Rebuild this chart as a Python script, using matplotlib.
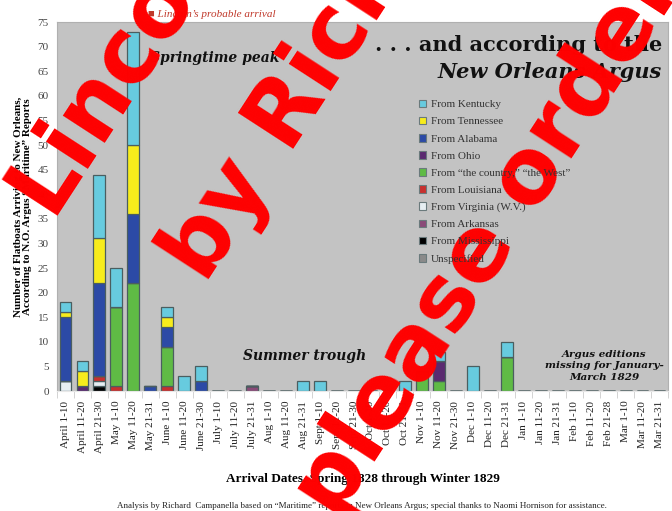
import matplotlib.pyplot as plt
from matplotlib.patches import Patch
import numpy as np

# ten-day arrival periods, spring 1828 through winter 1829
periods = ['April 1-10', 'April 11-20', 'April 21-30', 'May 1-10', 'May 11-20', 'May 21-31',
           'June 1-10', 'June 11-20', 'June 21-30', 'July 1-10', 'July 11-20', 'July 21-31',
           'Aug 1-10', 'Aug 11-20', 'Aug 21-31', 'Sept 1-10', 'Sept 11-20', 'Sept 21-30',
           'Oct 1-10', 'Oct 11-20', 'Oct 21-31', 'Nov 1-10', 'Nov 11-20', 'Nov 21-30',
           'Dec 1-10', 'Dec 11-20', 'Dec 21-31', 'Jan 1-10', 'Jan 11-20', 'Jan 21-31',
           'Feb 1-10', 'Feb 11-20', 'Feb 21-28', 'Mar 1-10', 'Mar 11-20', 'Mar 21-31']

n = len(periods)

def series(vals):
    s = [0] * n
    for i, v in vals.items():
        s[i] = v
    return s

kentucky = series({0: 2, 1: 2, 2: 13, 3: 8, 4: 23, 6: 2, 7: 3, 8: 3, 14: 2, 15: 2,
                   20: 2, 22: 2, 24: 5, 26: 3})
tennessee = series({0: 1, 1: 3, 2: 9, 4: 14, 6: 2})
alabama = series({0: 13, 2: 19, 4: 14, 5: 1, 6: 4, 8: 2})
ohio = series({1: 1, 22: 4})
country = series({3: 16, 4: 22, 6: 8, 21: 4, 22: 2, 26: 7})
louisiana = series({2: 1, 3: 1, 6: 1})
virginia = series({0: 2, 2: 1})
arkansas = series({11: 1})
mississippi = series({2: 1})
unspecified = series({})

labels = ['From Kentucky', 'From Tennessee', 'From Alabama', 'From Ohio',
          'From \u201cthe country,\u201d \u201cthe West\u201d', 'From Louisiana',
          'From Virginia (W.V.)', 'From Arkansas', 'From Mississippi', 'Unspecified']
values = [kentucky, tennessee, alabama, ohio, country, louisiana,
          virginia, arkansas, mississippi, unspecified]
colors = ['#67cbdf', '#f7ec1c', '#2c4aa6', '#5a2a70', '#5fbb45', '#c8302e',
          '#e6eef2', '#8a4a78', '#000000', '#8a8a8a']

serif = 'Liberation Serif'

fig = plt.figure(figsize=(6.72, 5.11), dpi=100)
ax = fig.add_axes([57 / 672, 1 - 391 / 511, 611 / 672, 369 / 511])
ax.set_facecolor('#c3c3c3')

x = np.arange(n)
bottom = np.zeros(n)
# stack from the bottom of the legend upward
for lab, vals, col in reversed(list(zip(labels, values, colors))):
    v = np.array(vals, dtype=float)
    ax.bar(x, v, bottom=bottom, width=0.7, color=col, edgecolor='#4b5e60', linewidth=0.9)
    bottom += v

ax.set_xlim(-0.5, n - 0.5)
ax.set_ylim(0, 75)
ax.set_yticks(range(0, 76, 5))
ax.set_xticks(x)
ax.set_xticklabels(periods, rotation=90, fontsize=8, family=serif, color='#222222')
ax.set_xticks(np.arange(-0.5, n, 1), minor=True)
ax.tick_params(axis='x', which='major', length=0, pad=7)
ax.tick_params(axis='x', which='minor', length=5, color='#cccccc')
ax.tick_params(axis='y', length=0, labelsize=8, labelcolor='#444444', pad=6)
for t in ax.get_yticklabels():
    t.set_family(serif)
for s in ['left', 'top', 'right']:
    ax.spines[s].set_color('#b0b0b0')
ax.spines['bottom'].set_color('#e8e8e8')

ax.set_ylabel('Number of Flatboats Arriving to New Orleans,\nAccording to N.O. Argus \u201cMaritime\u201d Reports',
              fontsize=8, family=serif, fontweight='bold', labelpad=4, linespacing=1.0)
ax.set_xlabel('Arrival Dates, Spring 1828 through Winter 1829', fontsize=9.5,
              family=serif, fontweight='bold', labelpad=14)

handles = [Patch(facecolor=c, edgecolor='#6a7a7c', linewidth=0.8) for c in colors]
fig.legend(handles, labels, loc='upper left', bbox_to_anchor=(413 / 672, 1 - 94 / 511),
           frameon=False, prop={'family': serif, 'size': 8}, handlelength=0.7,
           handleheight=0.7, handletextpad=0.4, labelspacing=0.66, borderpad=0,
           labelcolor='#333333')

fig.text(662 / 672, 1 - 51 / 511, '. . . and according to the', ha='right', fontsize=15,
         family='DejaVu Serif', fontweight='bold', color='#111111')
fig.text(662 / 672, 1 - 78 / 511, 'New Orleans Argus', ha='right', fontsize=15,
         family='DejaVu Serif', fontweight='bold', style='italic', color='#111111')
fig.text(150 / 672, 1 - 62 / 511, 'Springtime peak', fontsize=10, family='DejaVu Serif',
         fontweight='bold', style='italic', color='#111111')
fig.text(148 / 672, 1 - 17 / 511, '\u25a0 Lincoln\u2019s probable arrival', fontsize=8,
         family=serif, style='italic', color='#c0392b')
fig.text(305 / 672, 1 - 360 / 511, 'Summer trough', ha='center', fontsize=10,
         family='DejaVu Serif', fontweight='bold', style='italic', color='#111111')
fig.text(604 / 672, 1 - 366 / 511, 'Argus editions\nmissing for January-\nMarch 1829',
         ha='center', va='center', fontsize=7.5, family='DejaVu Serif', fontweight='bold',
         style='italic', color='#111111', linespacing=1.35)
fig.text(362 / 672, 1 - 508 / 511,
         'Analysis by Richard  Campanella based on \u201cMaritime\u201d reports in New Orleans Argus; '
         'special thanks to Naomi Hornison for assistance.',
         ha='center', fontsize=6.5, family=serif, color='#222222')

# red watermark across the picture
wm = dict(rotation=57, rotation_mode='anchor', ha='left', va='baseline', color='#ff0000',
          fontsize=65, fontweight='bold', family='DejaVu Sans')
fig.text(50 / 672, 1 - 215 / 511, 'Lincoln', **wm)
fig.text(205 / 672, 1 - 285 / 511, 'by Richard', **wm)
fig.text(336 / 672, 1 - 522 / 511, 'please order', **wm)

fig.savefig('out.png', dpi=100)
